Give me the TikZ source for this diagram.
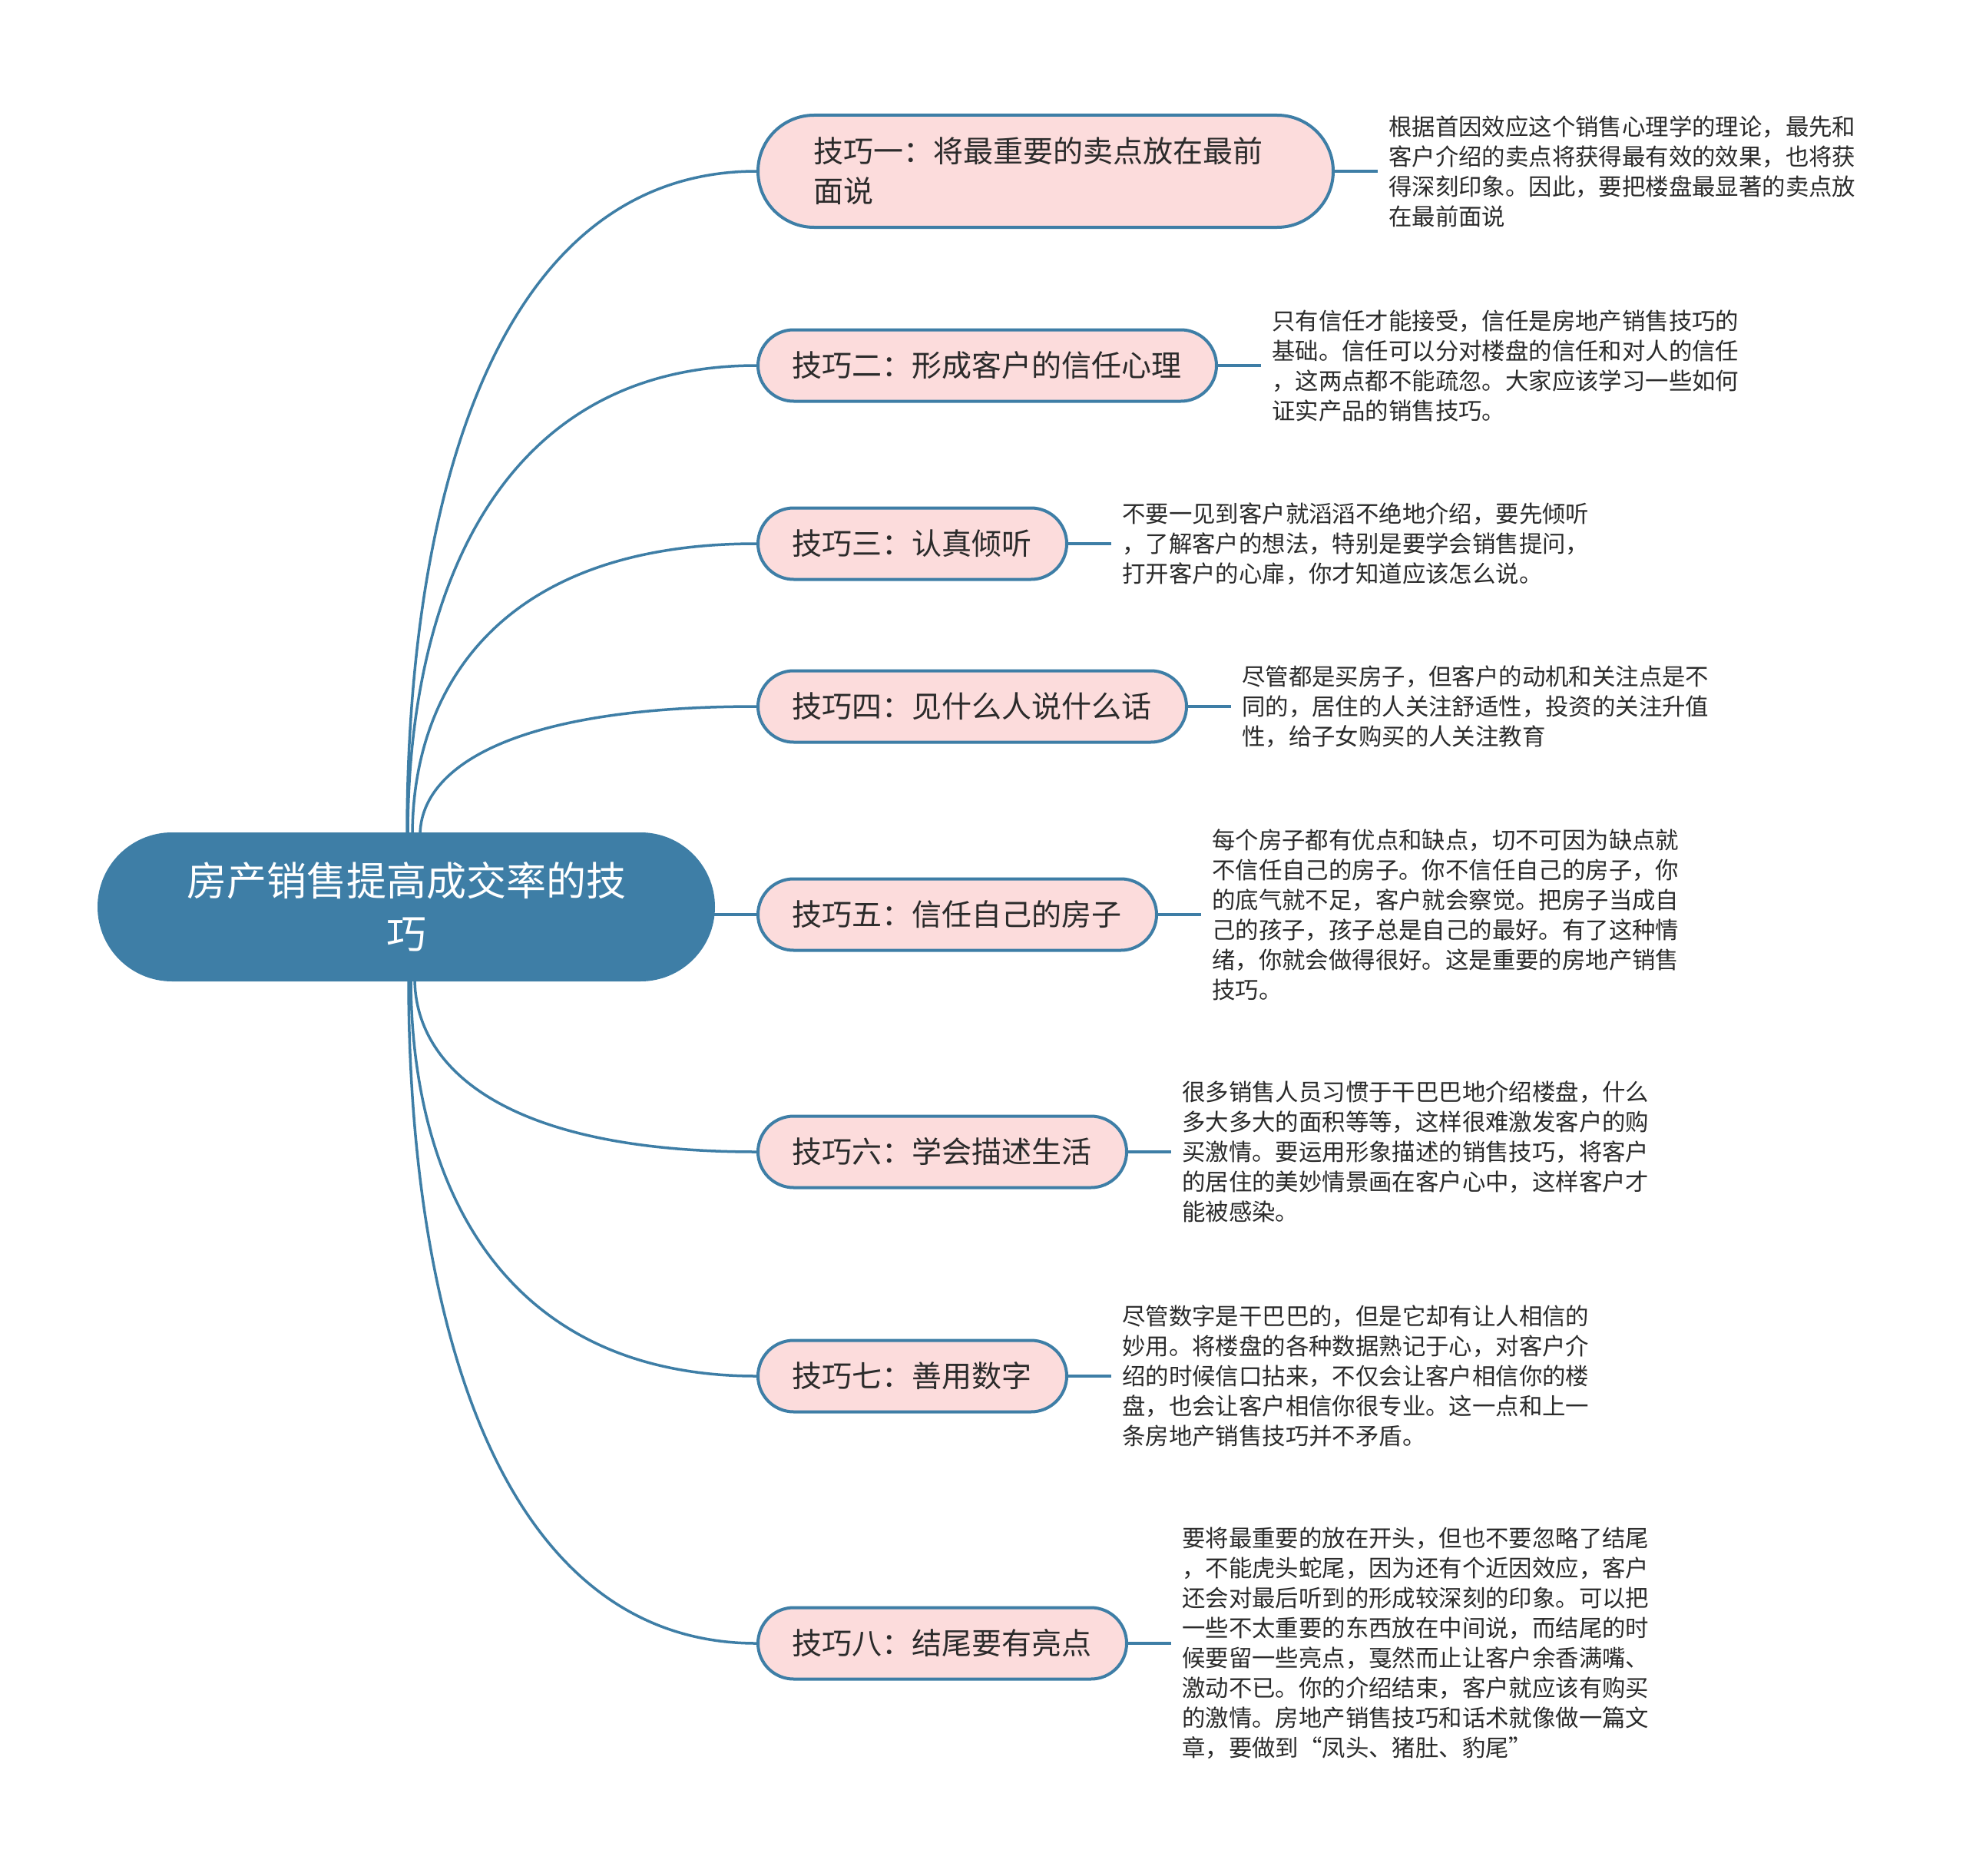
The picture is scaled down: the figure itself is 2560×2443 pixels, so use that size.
\documentclass[tikz,border=0pt]{standalone}
\usepackage{fontspec}
\setmainfont{Noto Sans CJK SC}
\usetikzlibrary{calc}
\definecolor{mblue}{HTML}{3E7EA6}
\definecolor{mpink}{HTML}{FCDCDC}
\definecolor{mtext}{HTML}{2B2B2B}
\pgfdeclarelayer{bg}
\pgfsetlayers{bg,main}
\tikzset{
  rootnode/.style={fill=mblue, text=white, rounded corners=97pt, minimum width=804pt, minimum height=194pt, text width=720pt, align=center, inner sep=0pt, font=\fontsize{52}{69}\selectfont},
  branch/.style={draw=mblue, line width=4pt, fill=mpink, text=mtext, rounded corners=46.5pt, minimum height=93pt, inner xsep=44pt, inner ysep=0pt, align=left, anchor=west, font=\fontsize{39}{52}\selectfont},
  desc/.style={text=mtext, align=left, anchor=west, inner xsep=14pt, inner ysep=0pt, text width=630pt, font=\fontsize{30.4}{39}\selectfont},
  conn/.style={draw=mblue, line width=3.5pt}
}
\newcommand{\curveto}[2]{\draw[conn] (#1) .. controls ($(#1)!0.5!(#1|-#2.west)$) and ($(#2.west)!0.75!(#1|-#2.west)$) .. (#2.west);}
\begin{document}
\begin{tikzpicture}[x=1pt,y=-1pt]
\useasboundingbox (0,0) rectangle (2560,2443);

\node[rootnode] (root) at (529,1181) {房产销售提高成交率的技\\巧};

\node[branch, inner xsep=72pt, text width=605pt, minimum height=146pt, rounded corners=73pt] (b1) at (985,223) {技巧一：将最重要的卖点放在最前\\面说};
\node[branch, text width=509pt] (b2) at (985,476) {技巧二：形成客户的信任心理};
\node[branch, text width=314pt] (b3) at (985,708) {技巧三：认真倾听};
\node[branch, text width=470pt] (b4) at (985,920) {技巧四：见什么人说什么话};
\node[branch, text width=431pt] (b5) at (985,1191) {技巧五：信任自己的房子};
\node[branch, text width=392pt] (b6) at (985,1500) {技巧六：学会描述生活};
\node[branch, text width=314pt] (b7) at (985,1792) {技巧七：善用数字};
\node[branch, text width=392pt] (b8) at (985,2140) {技巧八：结尾要有亮点};

\node[desc] (d1) at ($(b1.east)+(56,0)$) {根据首因效应这个销售心理学的理论，最先和\\客户介绍的卖点将获得最有效的效果，也将获\\得深刻印象。因此，要把楼盘最显著的卖点放\\在最前面说};
\node[desc] (d2) at ($(b2.east)+(56,0)$) {只有信任才能接受，信任是房地产销售技巧的\\基础。信任可以分对楼盘的信任和对人的信任\\，这两点都不能疏忽。大家应该学习一些如何\\证实产品的销售技巧。};
\node[desc] (d3) at ($(b3.east)+(56,0)$) {不要一见到客户就滔滔不绝地介绍，要先倾听\\，了解客户的想法，特别是要学会销售提问，\\打开客户的心扉，你才知道应该怎么说。};
\node[desc] (d4) at ($(b4.east)+(56,0)$) {尽管都是买房子，但客户的动机和关注点是不\\同的，居住的人关注舒适性，投资的关注升值\\性，给子女购买的人关注教育};
\node[desc] (d5) at ($(b5.east)+(56,0)$) {每个房子都有优点和缺点，切不可因为缺点就\\不信任自己的房子。你不信任自己的房子，你\\的底气就不足，客户就会察觉。把房子当成自\\己的孩子，孩子总是自己的最好。有了这种情\\绪，你就会做得很好。这是重要的房地产销售\\技巧。};
\node[desc] (d6) at ($(b6.east)+(56,0)$) {很多销售人员习惯于干巴巴地介绍楼盘，什么\\多大多大的面积等等，这样很难激发客户的购\\买激情。要运用形象描述的销售技巧，将客户\\的居住的美妙情景画在客户心中，这样客户才\\能被感染。};
\node[desc] (d7) at ($(b7.east)+(56,0)$) {尽管数字是干巴巴的，但是它却有让人相信的\\妙用。将楼盘的各种数据熟记于心，对客户介\\绍的时候信口拈来，不仅会让客户相信你的楼\\盘，也会让客户相信你很专业。这一点和上一\\条房地产销售技巧并不矛盾。};
\node[desc] (d8) at ($(b8.east)+(56,0)$) {要将最重要的放在开头，但也不要忽略了结尾\\，不能虎头蛇尾，因为还有个近因效应，客户\\还会对最后听到的形成较深刻的印象。可以把\\一些不太重要的东西放在中间说，而结尾的时\\候要留一些亮点，戛然而止让客户余香满嘴、\\激动不已。你的介绍结束，客户就应该有购买\\的激情。房地产销售技巧和话术就像做一篇文\\章，要做到“凤头、猪肚、豹尾”};

\coordinate (s1) at (530,1088);
\coordinate (s2) at (531,1088);
\coordinate (s3) at (537,1088);
\coordinate (s4) at (547,1088);
\coordinate (s6) at (540,1274);
\coordinate (s7) at (535,1274);
\coordinate (s8) at (532,1274);

\begin{pgfonlayer}{bg}
\fill[white] (0,0) rectangle (2560,2443);
\curveto{s1}{b1}
\curveto{s2}{b2}
\curveto{s3}{b3}
\curveto{s4}{b4}
\curveto{s6}{b6}
\curveto{s7}{b7}
\curveto{s8}{b8}
\draw[conn] ($(b5.west -| root.east)+(-6,0)$) -- (b5.west);
\foreach \i in {1,...,8}{\draw[conn] (b\i.east) -- (d\i.west);}
\end{pgfonlayer}
\end{tikzpicture}
\end{document}
